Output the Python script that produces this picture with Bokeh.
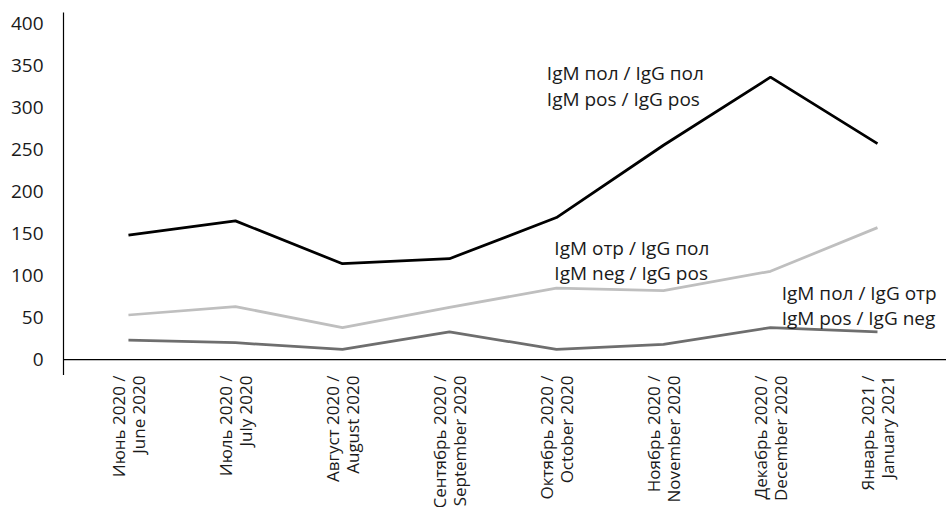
from bokeh.plotting import figure
from bokeh.models import FixedTicker, Span, Range1d, ColumnDataSource
from bokeh.layouts import column
from bokeh.core.properties import value
from bokeh.embed import file_html
from bokeh.resources import INLINE

months = ["Июнь 2020 /\nJune 2020", "Июль 2020 /\nJuly 2020", "Август 2020 /\nAugust 2020",
          "Сентябрь 2020 /\nSeptember 2020", "Октябрь 2020 /\nOctober 2020",
          "Ноябрь 2020 /\nNovember 2020", "Декабрь 2020 /\nDecember 2020",
          "Январь 2021 /\nJanuary 2021"]
pos_pos = [148, 165, 114, 120, 169, 255, 336, 257]
neg_pos = [53, 63, 38, 62, 85, 82, 105, 157]
pos_neg = [23, 20, 12, 33, 12, 18, 38, 33]
y_ticks = [0, 50, 100, 150, 200, 250, 300, 350, 400]

series_labels = ["IgM пол / IgG пол\nIgM pos / IgG pos",
                 "IgM отр / IgG пол\nIgM neg / IgG pos",
                 "IgM пол / IgG отр\nIgM pos / IgG neg"]
label_x = [3.91, 3.98, 6.105]
label_y = [356, 148, 95]
colors = ["#000000", "#bfbfbf", "#6e6e6e"]

FONT = "Open Sans"
xs = list(range(len(months)))
x_rng = Range1d(-0.607, 7.645)

p = figure(width=946, height=375, output_backend="svg", toolbar_location=None,
           x_range=x_rng, y_range=Range1d(-19, 413), x_axis_location=None,
           min_border_left=63, min_border_top=12, min_border_right=0, min_border_bottom=0)
p.outline_line_color = None
p.grid.grid_line_color = None

for vals, c in zip([pos_pos, neg_pos, pos_neg], colors):
    p.line(xs, vals, line_color=c, line_width=2.75)

p.add_layout(Span(location=0, dimension="width", line_color="#000000", line_width=1.2))

src = ColumnDataSource(dict(x=label_x, y=label_y, t=series_labels))
p.text(x="x", y="y", text="t", source=src, text_font=value(FONT), text_font_size="19px",
       text_color="#1a1a1a", text_baseline="top", text_align="left", text_line_height=0.966)

ya = p.yaxis[0]
ya.ticker = FixedTicker(ticks=y_ticks)
ya.major_tick_line_color = None
ya.minor_tick_line_color = None
ya.major_tick_out = 0
ya.major_tick_in = 0
ya.axis_line_color = "#000000"
ya.axis_line_width = 1.2
ya.major_label_standoff = 20
ya.major_label_text_font = FONT
ya.major_label_text_font_size = "19px"
ya.major_label_text_color = "#1a1a1a"

# strip below the chart holding the rotated two-line category labels
p2 = figure(width=946, height=132, output_backend="svg", toolbar_location=None,
            x_range=x_rng, y_range=Range1d(-132, 0), x_axis_location=None, y_axis_location=None,
            min_border_left=63, min_border_top=0, min_border_right=0, min_border_bottom=0)
p2.outline_line_color = None
p2.grid.grid_line_color = None
cat_src = ColumnDataSource(dict(x=xs, y=[0] * len(xs), t=months))
p2.text(x="x", y="y", text="t", source=cat_src, angle=1.5707963267948966,
        text_align="right", text_baseline="middle",
        text_font=value(FONT), text_font_size="17px",
        text_color="#1a1a1a", text_line_height=0.865)

layout = column(p, p2, spacing=0)
open("out.html", "w").write(file_html(layout, INLINE))
